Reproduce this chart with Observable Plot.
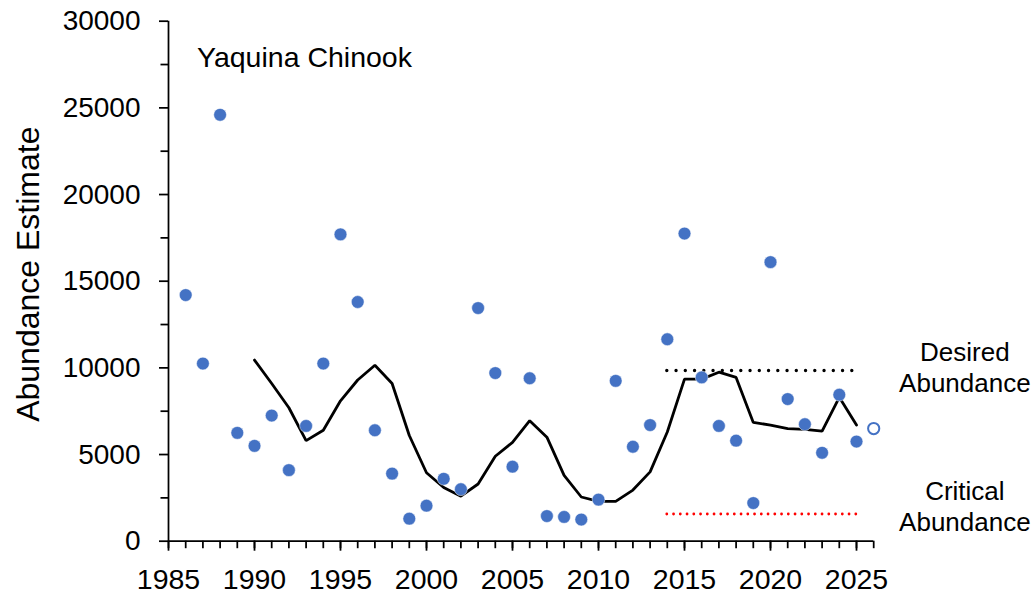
<!DOCTYPE html>
<html><head><meta charset="utf-8">
<script src="https://cdn.jsdelivr.net/npm/d3@7"></script>
<script src="https://cdn.jsdelivr.net/npm/@observablehq/plot@0.6"></script>
<style>
body{margin:0;background:#fff;}
#chart svg{display:block;}
</style></head><body><div id="chart"></div>
<script>
// Annual abundance estimates (blue dots)
const years = [1986,1987,1988,1989,1990,1991,1992,1993,1994,1995,1996,1997,1998,1999,2000,2001,2002,2003,2004,2005,2006,2007,2008,2009,2010,2011,2012,2013,2014,2015,2016,2017,2018,2019,2020,2021,2022,2023,2024,2025];
const abundance = [14200,10250,24600,6250,5500,7250,4100,6650,10250,17700,13800,6400,3900,1300,2050,3600,3000,13450,9700,4300,9400,1450,1400,1250,2400,9250,5450,6700,11650,17750,9450,6650,5800,2200,16100,8200,6750,5100,8450,5750];
// Running average (black line)
const avgYears = [1990,1991,1992,1993,1994,1995,1996,1997,1998,1999,2000,2001,2002,2003,2004,2005,2006,2007,2008,2009,2010,2011,2012,2013,2014,2015,2016,2017,2018,2019,2020,2021,2022,2023,2024,2025];
const avgValues = [10450,9100,7700,5800,6400,8100,9300,10150,9100,6100,3950,3100,2600,3300,4900,5700,6950,6000,3800,2550,2300,2300,2950,4000,6300,9350,9350,9750,9450,6850,6700,6500,6450,6350,8300,6700];
// Preliminary estimate (open circle)
const prelimYears = [2026];
const prelimValues = [6500];
// Reference levels
const desiredAbundance = 9850;
const criticalAbundance = 1570;
const refYears = [2014, 2025];
// Axis ticks
const xMajorTicks = [1985,1990,1995,2000,2005,2010,2015,2020,2025];
const xMinorTicks = d3.range(1985, 2027);
const yMajorTicks = [0,5000,10000,15000,20000,25000,30000];
const yMinorTicks = [2500,7500,12500,17500,22500,27500];
const titleText = "Yaquina Chinook";
const yTitle = "Abundance Estimate";
const desiredLabel = "Desired\nAbundance";
const criticalLabel = "Critical\nAbundance";

const points = years.map((y, i) => ({year: y, value: abundance[i]}));
const avg = avgYears.map((y, i) => ({year: y, value: avgValues[i]}));
const prelim = prelimYears.map((y, i) => ({year: y, value: prelimValues[i]}));

const font = "'Liberation Sans', Arial, sans-serif";
const blue = "#4472C4";

const chart = Plot.plot({
  width: 1034,
  height: 597,
  marginLeft: 168,
  marginRight: 160.8,
  marginTop: 20.7,
  marginBottom: 56.3,
  style: {fontFamily: font, color: "#000", background: "#fff", overflow: "visible"},
  x: {domain: [1985, 2026], axis: null},
  y: {domain: [0, 30000], axis: null},
  marks: [
    // minor ticks
    Plot.axisX({ticks: xMinorTicks, tickSize: 7.5, tickFormat: () => "", strokeWidth: 1.75, label: null}),
    Plot.axisY({ticks: yMinorTicks, tickSize: 7.5, tickFormat: () => "", strokeWidth: 1.75, label: null}),
    // major ticks + labels
    Plot.axisX({ticks: xMajorTicks, tickSize: 10, tickPadding: 18, fontSize: 28.5, strokeWidth: 1.75, tickFormat: d => String(d), label: null}),
    Plot.axisY({ticks: yMajorTicks, tickSize: 9, tickPadding: 19, fontSize: 28, strokeWidth: 1.75, tickFormat: d => String(d), label: null}),
    // axis lines
    Plot.ruleY([0], {strokeWidth: 1.75, stroke: "#000"}),
    Plot.ruleX([1985], {strokeWidth: 1.75, stroke: "#000"}),
    // reference levels
    Plot.ruleY([desiredAbundance], {x1: refYears[0], x2: refYears[1], stroke: "#000", strokeWidth: 3.4, strokeDasharray: "0 9.25", strokeLinecap: "round"}),
    Plot.ruleY([criticalAbundance], {x1: refYears[0], x2: refYears[1], stroke: "#FF0000", strokeWidth: 2.8, strokeDasharray: "0 6.75", strokeLinecap: "round"}),
    // running average
    Plot.line(avg, {x: "year", y: "value", stroke: "#000", strokeWidth: 2.8, strokeLinejoin: "miter"}),
    // annual estimates
    Plot.dot(points, {x: "year", y: "value", r: 6.4, fill: blue, stroke: "#fff", strokeWidth: 0.5}),
    Plot.dot(prelim, {x: "year", y: "value", r: 5.6, fill: "#fff", stroke: blue, strokeWidth: 2}),
    // title
    Plot.text([titleText], {frameAnchor: "top-left", textAnchor: "start", lineAnchor: "top", dx: 28.5, dy: 25.5, fontSize: 28.5, fill: "#000"}),
    // y title
    Plot.text([yTitle], {frameAnchor: "left", textAnchor: "middle", lineAnchor: "middle", rotate: -90, dx: -140, dy: -7, fontSize: 32, fill: "#000"}),
    // level labels
    Plot.text([desiredLabel], {x: 2031.3, y: desiredAbundance, textAnchor: "middle", lineAnchor: "middle", lineHeight: 1.19, dy: -4, fontSize: 26, fill: "#000"}),
    Plot.text([criticalLabel], {x: 2031.3, y: criticalAbundance, textAnchor: "middle", lineAnchor: "middle", lineHeight: 1.19, dy: -8, fontSize: 26, fill: "#000"})
  ]
});

document.getElementById("chart").appendChild(chart);
</script>
</body></html>
